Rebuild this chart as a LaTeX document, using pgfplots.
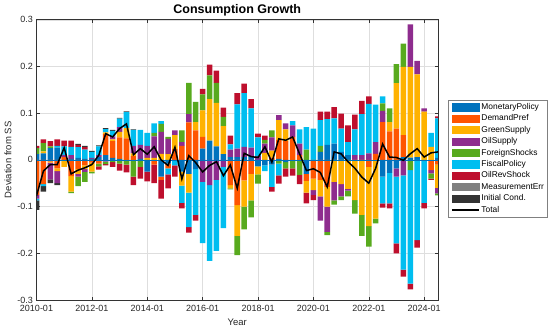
\documentclass[border=0pt]{standalone}
\usepackage{fontspec}
\setmainfont{Liberation Sans}
\usepackage{pgfplots}
\usepackage{pgfplotstable}
\pgfplotsset{compat=1.18}

\definecolor{cMP}{RGB}{0,114,189}
\definecolor{cDP}{RGB}{255,85,0}
\definecolor{cGS}{RGB}{255,178,0}
\definecolor{cOS}{RGB}{142,44,142}
\definecolor{cFS}{RGB}{88,170,30}
\definecolor{cFP}{RGB}{0,190,240}
\definecolor{cORS}{RGB}{190,15,45}
\definecolor{cME}{RGB}{128,128,128}
\definecolor{cIC}{RGB}{51,51,51}

% positive contributions
\pgfplotstableread{
x mp dp gs os fs fp ors me ic
0 .012 0 0 0 .013 0 .005 0 0
1 .014 0 .004 0 .018 0 .008 0 0
2 .025 0 0 0 .004 0 .011 0 0
3 .026 0 0 0 0 .004 .014 0 0
4 0 .006 0 .004 0 .019 .012 0 0
5 .002 0 0 .008 0 .018 .013 0 0
6 .004 0 0 0 0 .023 .005 0 .002
7 .002 0 0 0 0 .020 .005 0 .003
8 .002 0 0 .002 0 .013 0 0 .002
9 .006 0 0 .004 0 .019 0 0 .002
10 .010 .045 .004 0 0 .007 0 0 .002
11 .004 .036 .004 .006 0 .012 0 0 .002
12 .002 .046 .012 .010 0 .018 0 0 .002
13 0 .046 .022 0 0 .034 0 0 .002
14 0 .008 .006 .016 0 .034 0 0 .001
15 .002 0 0 .030 0 .032 0 0 0
16 0 0 .004 .026 0 .028 0 0 0
17 0 0 .004 .046 .008 .020 0 0 0
18 0 0 .013 .047 .017 .006 0 0 0
19 0 0 .012 .033 .004 0 0 0 0
20 0 .023 .030 .010 0 0 0 0 0
21 0 .030 0 .008 .025 0 0 0 0
22 0 .080 0 .018 .067 0 0 0 0
23 0 .063 .018 0 .043 0 0 0 0
24 .024 .025 .057 0 .034 0 .012 0 0
25 .041 0 .089 0 .051 0 .023 0 0
26 .029 0 .093 0 .043 0 .026 0 0
27 .012 0 .060 0 .020 0 .020 0 0
28 .006 0 0 .016 0 .011 .019 0 0
29 .006 0 0 .018 0 .095 .024 0 0
30 .006 0 0 .022 0 .115 .020 0 0
31 .008 0 0 .018 0 .084 .020 0 0
32 0 0 0 .008 0 .040 .008 0 0
33 0 0 .015 .020 .008 0 .009 0 0
34 0 .005 .015 .028 .015 0 0 0 0
35 .002 .040 .043 .011 0 0 0 0 0
36 0 .040 .025 .013 0 0 0 0 0
37 0 .049 0 .025 0 .009 0 0 0
38 0 .010 0 .025 0 .030 0 0 0
39 0 0 0 0 .022 .048 0 0 0
40 0 0 0 0 0 .067 0 0 0
41 .017 0 0 0 .013 .055 .018 0 0
42 .032 0 0 0 0 .055 .016 0 0
43 .035 0 0 0 0 .054 .024 0 0
44 .017 0 0 0 0 .050 .032 0 0
45 .010 0 0 0 0 .028 .036 0 0
46 0 0 0 .010 0 .055 .032 0 0
47 0 0 0 .010 0 .088 .028 0 0
48 0 0 0 .014 0 .106 .016 0 0
49 0 .013 0 .025 0 .080 0 0 0
50 0 .081 0 .024 .016 .015 0 0 0
51 0 .061 .020 0 .029 0 0 0 0
52 0 .067 .097 0 .041 0 0 0 0
53 .006 .047 .146 0 .050 0 0 0 0
54 .005 0 .194 .091 0 0 0 0 0
55 .006 0 .177 .029 0 0 0 0 0
56 0 0 .103 .007 0 0 0 0 0
57 0 0 .028 0 0 .030 0 0 0
58 .004 0 0 0 0 .085 .004 0 0
}\postab

% negative contributions
\pgfplotstableread{
x mp dp gs os fs fp ors me ic
0 0 -.075 0 -.008 0 -.004 0 0 -.020
1 0 -.052 0 0 0 -.004 0 0 -.012
2 0 -.004 -.002 -.036 0 0 0 0 -.008
3 0 -.018 -.006 -.026 0 0 0 0 -.004
4 -.002 0 -.013 0 0 0 0 0 0
5 0 -.035 -.033 0 -.003 0 0 0 0
6 0 -.020 -.010 -.006 -.020 0 0 0 0
7 0 -.012 -.008 -.006 -.021 0 0 0 0
8 0 -.006 -.019 0 -.004 0 0 0 0
9 0 -.008 0 0 -.006 0 -.007 0 0
10 0 0 0 -.004 -.005 0 -.003 0 0
11 0 0 0 0 -.005 0 -.010 0 0
12 0 0 0 0 -.008 0 -.015 0 0
13 0 0 0 0 -.010 0 -.017 0 0
14 0 0 0 0 -.036 0 -.018 0 0
15 0 0 0 0 -.015 0 -.025 0 0
16 -.025 0 0 0 0 0 -.021 0 0
17 0 -.010 0 0 0 0 -.040 0 0
18 -.036 -.007 0 0 0 0 -.040 0 0
19 -.008 -.010 0 0 0 -.013 -.030 0 0
20 0 0 0 0 0 -.012 -.024 0 0
21 -.025 0 -.030 0 0 -.037 -.012 0 0
22 -.030 0 -.040 0 0 -.074 -.012 0 0
23 -.020 0 0 0 0 -.098 -.012 0 0
24 0 0 0 -.047 0 -.131 0 0 0
25 0 0 0 -.054 0 -.162 0 0 0
26 0 0 0 -.043 0 -.152 0 0 0
27 0 0 0 -.015 0 -.131 0 0 0
28 0 -.054 -.007 0 -.002 0 0 0 0
29 0 -.097 -.066 0 -.041 0 0 0 0
30 0 -.044 -.056 0 -.049 0 0 0 0
31 0 -.030 -.057 0 -.036 0 0 0 0
32 -.014 0 -.017 0 -.020 0 0 0 0
33 -.012 0 0 0 0 -.012 0 0 0
34 -.010 0 0 0 0 -.048 -.010 0 0
35 0 0 0 0 -.008 -.025 -.018 0 0
36 -.005 0 0 0 -.013 0 -.018 0 0
37 0 0 0 0 -.018 0 -.016 0 0
38 0 0 0 0 -.032 0 -.020 0 0
39 -.030 -.015 -.025 0 0 0 -.023 0 0
40 0 -.040 -.025 -.010 0 0 -.011 0 0
41 0 -.043 -.035 -.052 0 0 0 0 0
42 0 -.058 -.042 -.054 -.007 0 0 0 0
43 0 0 -.047 -.040 -.009 0 0 0 0
44 0 0 -.052 -.026 -.008 0 0 0 0
45 0 0 -.062 -.004 -.012 0 0 0 0
46 0 0 -.086 0 -.029 0 0 0 0
47 0 0 -.118 0 -.045 0 0 0 0
48 0 -.015 -.127 0 -.044 0 0 0 0
49 0 0 -.126 0 -.010 0 0 0 0
50 -.036 0 0 0 0 -.057 -.009 0 0
51 -.028 0 0 0 0 -.065 -.011 0 0
52 -.018 0 0 -.018 0 -.143 -.021 0 0
53 0 0 0 -.033 0 -.202 -.015 0 0
54 0 0 0 0 -.022 -.243 -.012 0 0
55 0 0 0 0 0 -.172 -.016 0 0
56 0 0 0 0 0 -.092 -.012 0 0
57 0 -.022 0 -.007 -.011 0 -.003 0 0
58 0 -.010 -.050 -.012 -.004 0 0 0 0
}\negtab

% total
\pgfplotstableread{
x tot
0 -.077
1 -.024
2 -.010
3 -.010
4 .026
5 -.030
6 -.022
7 -.017
8 -.010
9 .010
10 .056
11 .049
12 .067
13 .077
14 .011
15 .024
16 .012
17 .028
18 0
19 -.012
20 .027
21 -.041
22 .009
23 -.006
24 -.026
25 -.012
26 -.004
27 -.034
28 -.011
29 -.061
30 .014
31 .007
32 .005
33 .028
34 -.005
35 .045
36 .042
37 .049
38 .013
39 -.023
40 -.019
41 -.027
42 -.058
43 .017
44 .013
45 -.004
46 -.018
47 -.037
48 -.050
49 -.018
50 .034
51 .006
52 .005
53 -.001
54 .013
55 .024
56 .006
57 .015
58 .017
}\tottab

\pgfplotsset{
  common/.style={
    scale only axis, width=401.5pt, height=280.3pt,
    at={(0pt,0pt)}, anchor=south west,
    xmin=0, xmax=58, ymin=-0.3, ymax=0.3,
    enlargelimits=false,
    xtick={0,8,16,24,32,40,48,56},
    ytick={-0.3,-0.2,-0.1,0,0.1,0.2,0.3},
    tick align=inside, tick pos=both, major tick length=3pt,
    axis line style={black!80, line width=0.5pt},
    tick style={black!80, line width=0.5pt},
  },
  bars/.style={common, ybar stacked, bar width=0.8},
}

\begin{document}
\begin{tikzpicture}
% Axis A: grid, labels, positive stacks
\begin{axis}[bars,
  grid=major, grid style={black!13, line width=0.4pt},
  xticklabels={2010-01,2012-01,2014-01,2016-01,2018-01,2020-01,2022-01,2024-01},
  ticklabel style={font=\fontsize{9}{10}\selectfont, text=black!85},
  xticklabel style={yshift=-1.5pt},
  yticklabel style={/pgf/number format/fixed, /pgf/number format/precision=1, /pgf/number format/assume math mode=true},
  xlabel={Year}, ylabel={Deviation from SS},
  label style={font=\fontsize{9.5}{11}\selectfont, text=black!85},
  xlabel style={at={(axis description cs:0.5,0)}, anchor=center, yshift=-22.7pt},
  ylabel style={at={(axis description cs:-0.071,0.5)}, anchor=center},
  title={Consumption Growth},
  title style={font=\fontsize{12.5}{14}\selectfont\bfseries, at={(axis description cs:0.5,1)}, anchor=center, yshift=3pt},
]
\addplot[fill=cMP, draw=none] table[x=x, y=mp]{\postab};
\addplot[fill=cDP, draw=none] table[x=x, y=dp]{\postab};
\addplot[fill=cGS, draw=none] table[x=x, y=gs]{\postab};
\addplot[fill=cOS, draw=none] table[x=x, y=os]{\postab};
\addplot[fill=cFS, draw=none] table[x=x, y=fs]{\postab};
\addplot[fill=cFP, draw=none] table[x=x, y=fp]{\postab};
\addplot[fill=cORS, draw=none] table[x=x, y=ors]{\postab};
\addplot[fill=cME, draw=none] table[x=x, y=me]{\postab};
\addplot[fill=cIC, draw=none] table[x=x, y=ic]{\postab};
\end{axis}
% Axis B: negative stacks
\begin{axis}[bars, hide axis]
\addplot[fill=cMP, draw=none] table[x=x, y=mp]{\negtab};
\addplot[fill=cDP, draw=none] table[x=x, y=dp]{\negtab};
\addplot[fill=cGS, draw=none] table[x=x, y=gs]{\negtab};
\addplot[fill=cOS, draw=none] table[x=x, y=os]{\negtab};
\addplot[fill=cFS, draw=none] table[x=x, y=fs]{\negtab};
\addplot[fill=cFP, draw=none] table[x=x, y=fp]{\negtab};
\addplot[fill=cORS, draw=none] table[x=x, y=ors]{\negtab};
\addplot[fill=cME, draw=none] table[x=x, y=me]{\negtab};
\addplot[fill=cIC, draw=none] table[x=x, y=ic]{\negtab};
\end{axis}
% Axis C: box, baseline, total line, legend
\begin{axis}[common,
  xticklabels={}, yticklabels={},
  legend style={at={(1.0249,0.7135)}, anchor=north west, draw=black!50, fill=white,
    font=\fontsize{8.4}{9}\selectfont, inner xsep=3pt, inner ysep=3pt, row sep=3.3pt,
    nodes={inner sep=0pt, text height=6.3pt, text depth=1.8pt},
    /tikz/every odd column/.append style={column sep=2pt}},
  legend cell align=left,
]
\addlegendimage{legend image code/.code={\fill[cMP] (0pt,-3.6pt) rectangle (27pt,3.6pt);}}
\addlegendimage{legend image code/.code={\fill[cDP] (0pt,-3.6pt) rectangle (27pt,3.6pt);}}
\addlegendimage{legend image code/.code={\fill[cGS] (0pt,-3.6pt) rectangle (27pt,3.6pt);}}
\addlegendimage{legend image code/.code={\fill[cOS] (0pt,-3.6pt) rectangle (27pt,3.6pt);}}
\addlegendimage{legend image code/.code={\fill[cFS] (0pt,-3.6pt) rectangle (27pt,3.6pt);}}
\addlegendimage{legend image code/.code={\fill[cFP] (0pt,-3.6pt) rectangle (27pt,3.6pt);}}
\addlegendimage{legend image code/.code={\fill[cORS] (0pt,-3.6pt) rectangle (27pt,3.6pt);}}
\addlegendimage{legend image code/.code={\fill[cME] (0pt,-3.6pt) rectangle (27pt,3.6pt);}}
\addlegendimage{legend image code/.code={\fill[cIC] (0pt,-3.6pt) rectangle (27pt,3.6pt);}}
\addlegendimage{legend image code/.code={\draw[black, line width=1.3pt] (0pt,0pt) -- (27pt,0pt);}}
\addplot[cMP, line width=0.7pt, forget plot] coordinates {(0,0) (58,0)};
\addplot[black, line width=1.5pt, no marks, forget plot] table[x=x, y=tot]{\tottab};
\legend{MonetaryPolicy,DemandPref,GreenSupply,OilSupply,ForeignShocks,FiscalPolicy,OilRevShock,MeasurementErr,Initial Cond.,Total}
\end{axis}
\pgfresetboundingbox
\path[use as bounding box] (-36.5pt,-33pt) rectangle (513.5pt,300pt);
\end{tikzpicture}
\end{document}
